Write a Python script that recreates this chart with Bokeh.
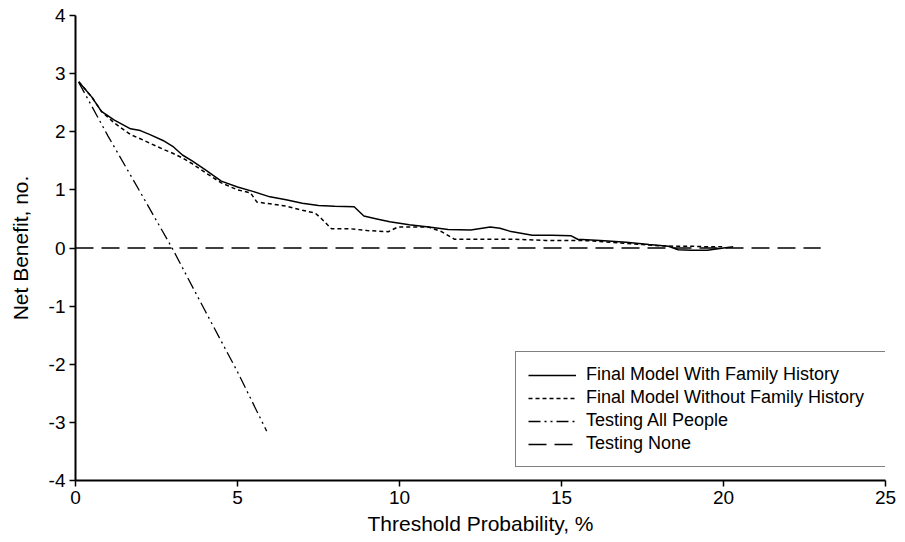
from bokeh.plotting import figure
from bokeh.models import Range1d, FixedTicker, Legend, LegendItem, CustomJSTickFormatter
from bokeh.embed import file_html
from bokeh.resources import INLINE

# Threshold probability (%) and net benefit (no.)
with_fh_x = [0.1, 0.5, 0.8, 1.2, 1.7, 2.0, 2.3, 2.7, 3.0, 3.3, 3.6, 4.0, 4.5, 5.0, 5.5, 6.0,
             6.5, 7.0, 7.5, 8.0, 8.6, 8.9, 9.3, 9.7, 10.3, 10.9, 11.5, 12.2, 12.8, 13.1,
             13.4, 14.1, 14.7, 15.3, 15.5, 16.2, 17.0, 17.7, 18.3, 18.6, 19.0, 19.5, 20.0, 20.3]
with_fh_y = [2.86, 2.6, 2.35, 2.2, 2.05, 2.02, 1.95, 1.85, 1.75, 1.6, 1.5, 1.35, 1.15, 1.05, 0.97, 0.88,
             0.83, 0.77, 0.73, 0.72, 0.71, 0.55, 0.50, 0.45, 0.40, 0.36, 0.32, 0.31, 0.36, 0.34,
             0.29, 0.22, 0.22, 0.21, 0.15, 0.13, 0.10, 0.06, 0.03, -0.03, -0.04, -0.04, 0.0, 0.02]

without_fh_x = [0.1, 0.5, 0.8, 1.2, 1.7, 2.0, 2.3, 2.7, 3.0, 3.3, 3.6, 4.0, 4.5, 5.0, 5.4, 5.6,
                6.0, 6.5, 7.0, 7.4, 7.6, 7.9, 8.5, 9.0, 9.65, 9.95, 10.5, 10.9, 11.3, 11.7,
                12.5, 13.5, 14.5, 15.5, 16.0, 16.5, 17.0, 17.5, 18.0, 18.5, 19.0, 19.5, 20.0]
without_fh_y = [2.86, 2.6, 2.35, 2.15, 1.95, 1.88, 1.8, 1.7, 1.63, 1.55, 1.45, 1.3, 1.12, 1.0, 0.95, 0.79,
                0.76, 0.72, 0.65, 0.6, 0.5, 0.33, 0.33, 0.30, 0.28, 0.36, 0.36, 0.36, 0.28, 0.15,
                0.15, 0.15, 0.13, 0.13, 0.12, 0.10, 0.08, 0.06, 0.04, 0.03, 0.03, 0.02, 0.02]

all_x = [0.1, 1.0, 2.0, 3.0, 4.0, 5.0, 5.9]
all_y = [2.85, 1.93, 0.96, -0.02, -1.08, -2.13, -3.15]

none_x = [0, 23]
none_y = [0, 0]

x_ticks = [0, 5, 10, 15, 20, 25]
y_ticks = [-4, -3, -2, -1, 0, 1, 2, 3, 4]

labels = ["Final Model With Family History", "Final Model Without Family History",
          "Testing All People", "Testing None"]

FONT = "Liberation Sans"

p = figure(width=900, height=540, frame_width=810, frame_height=465,
           x_range=Range1d(0, 25), y_range=Range1d(-4, 4),
           output_backend="svg", toolbar_location=None,
           min_border_left=75, min_border_top=15, min_border_right=15, min_border_bottom=60)
p.outline_line_color = None
p.grid.visible = False
p.background_fill_color = "white"

r1 = p.line(with_fh_x, with_fh_y, line_color="black", line_width=1.5)
r2 = p.line(without_fh_x, without_fh_y, line_color="black", line_width=1.5, line_dash="4 3")
r3 = p.line(all_x, all_y, line_color="black", line_width=1.3, line_dash="12 4 2 4 2 4")
r4 = p.line(none_x, none_y, line_color="black", line_width=1.5, line_dash="18 8")

for ax in (p.xaxis[0], p.yaxis[0]):
    ax.axis_line_width = 2
    ax.axis_line_color = "black"
    ax.major_tick_line_color = "black"
    ax.major_tick_line_width = 1.5
    ax.major_tick_in = 0
    ax.major_tick_out = 6
    ax.minor_tick_line_color = None
    ax.major_label_text_font = FONT
    ax.major_label_text_font_size = "19px"
    ax.major_label_text_color = "black"
    ax.axis_label_text_font = FONT
    ax.axis_label_text_font_size = "21px"
    ax.axis_label_text_font_style = "normal"
    ax.axis_label_text_color = "black"
    ax.major_label_standoff = 4
    ax.formatter = CustomJSTickFormatter(code="return String(tick);")

p.xaxis[0].ticker = FixedTicker(ticks=x_ticks)
p.yaxis[0].ticker = FixedTicker(ticks=y_ticks)
p.xaxis[0].axis_label = "Threshold Probability, %"
p.yaxis[0].axis_label = "Net Benefit, no."
p.xaxis[0].axis_label_standoff = 5
p.yaxis[0].axis_label_standoff = 14

legend = Legend(items=[LegendItem(label=labels[0], renderers=[r1]),
                       LegendItem(label=labels[1], renderers=[r2]),
                       LegendItem(label=labels[2], renderers=[r3]),
                       LegendItem(label=labels[3], renderers=[r4])],
                location=(440, 13))
legend.label_text_font = FONT
legend.label_text_font_size = "18px"
legend.label_text_color = "black"
legend.border_line_color = "black"
legend.border_line_width = 1
legend.background_fill_color = "white"
legend.background_fill_alpha = 1
legend.padding = 12
legend.spacing = 2
legend.glyph_width = 48
legend.glyph_height = 20
legend.label_height = 20
legend.label_width = 296
legend.label_standoff = 10
legend.margin = 0
p.add_layout(legend, "center")

open("out.html", "w").write(file_html(p, INLINE))
